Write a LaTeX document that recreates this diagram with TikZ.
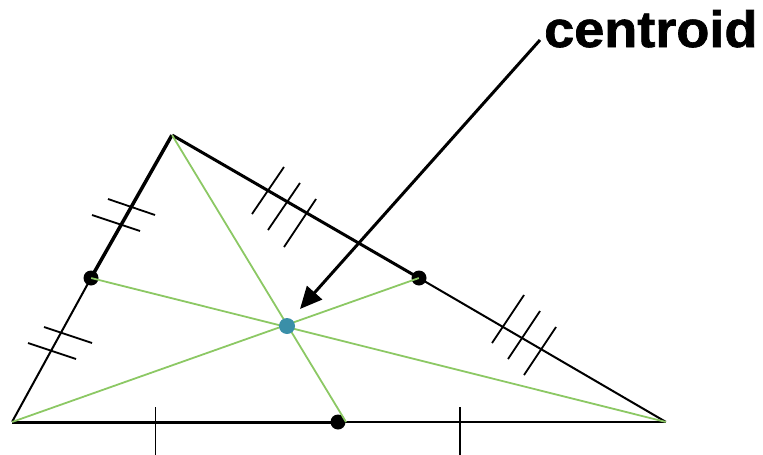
\documentclass[tikz,border=0pt]{standalone}
\usepackage{fontspec}
\usepackage{graphicx}
\setmainfont{Liberation Sans}
\newfontfamily\heavyfont[FakeBold=1.3, BoldFeatures={FakeBold=1.3}]{Liberation Sans}
\usetikzlibrary{arrows.meta,calc}
\definecolor{medgreen}{RGB}{140,200,100}
\definecolor{cblue}{RGB}{58,143,168}
\tikzset{
  side/.style={line width=2pt, black},
  thickside/.style={line width=3.5pt, black},
  tick/.style={line width=1.8pt, black},
  median/.style={line width=1.8pt, medgreen},
  middot/.style={circle, fill=black, inner sep=0pt, minimum size=15pt},
  cdot/.style={circle, fill=cblue, inner sep=0pt, minimum size=16pt},
  pt/.style={inner sep=0pt, minimum size=0pt},
  lab/.style={inner sep=0pt, font=\heavyfont\bfseries\fontsize{51pt}{51pt}\selectfont},
  pointer/.style={line width=3pt, -{Triangle[length=22pt,width=20pt]}}
}
\begin{document}
\begin{tikzpicture}[x=1pt,y=-1pt]
\useasboundingbox (0,0) rectangle (763,455);
% vertices and midpoints
\node[pt] (A) at (172,135) {};
\node[pt] (B) at (12,422) {};
\node[pt] (C) at (666,422) {};
\node[pt] (mAB) at (91,278) {};
\node[pt] (mAC) at (419,278) {};
\node[pt] (mBC) at (338,422) {};
\coordinate (gBC) at (346,422);
\node[pt] (G) at (287,326) {};
% sides
\draw[thickside] (A) -- (mAB);
\draw[side] (mAB) -- (B);
\draw[line width=3pt] (A) -- (mAC);
\draw[side] (mAC) -- (C);
\draw[line width=3pt] (B) -- (mBC);
\draw[side] (mBC) -- (C);
% ticks on AB
\draw[tick] (108,199) -- (155,215);
\draw[tick] (92,215) -- (140,231);
\draw[tick] (44,327) -- (92,343);
\draw[tick] (28,343) -- (76,359);
% ticks on AC
\draw[tick] (284,167) -- (252,214);
\draw[tick] (300,183) -- (268,230);
\draw[tick] (316,199) -- (284,247);
\draw[tick] (524,295) -- (492,343);
\draw[tick] (540,311) -- (508,359);
\draw[tick] (556,327) -- (524,375);
% ticks on BC
\draw[tick] (155.5,407) -- (155.5,456);
\draw[tick] (460,407) -- (460,456);
% midpoint dots
\node[middot] (dAB) at (mAB) {};
\node[middot] (dAC) at (mAC) {};
\node[middot] (dBC) at (mBC) {};
% medians
\draw[median] (mAB) -- (C);
\draw[median] (mAC) -- (B);
\draw[median] (A) -- (gBC);
% centroid
\node[cdot] (cen) at (G) {};
% label and pointer
\node[lab, anchor=base west] (label) at (544,47) {\scalebox{1.06}[1]{centroid}};
\coordinate (tail) at (540,40);
\coordinate (tip) at (300,309);
\draw[pointer] (tail) -- (tip);
\end{tikzpicture}
\end{document}
